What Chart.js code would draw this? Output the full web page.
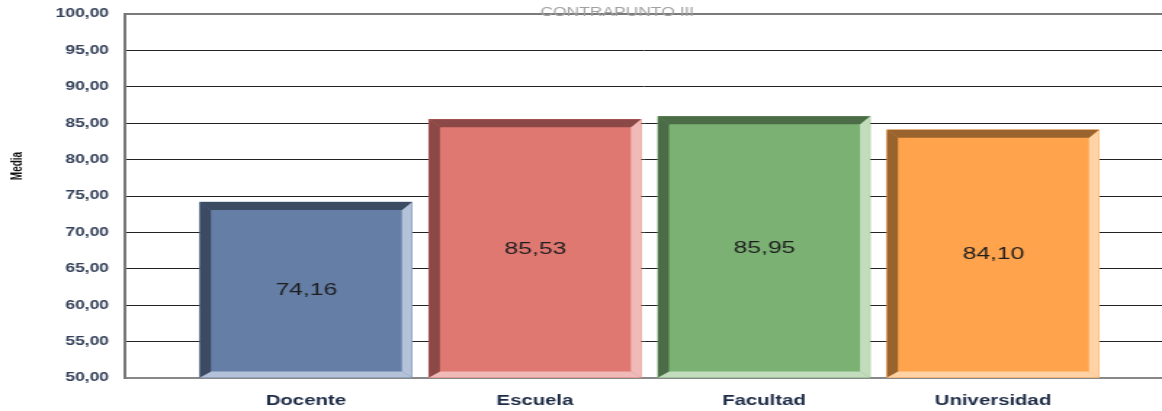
<!DOCTYPE html>
<html>
<head>
<meta charset="utf-8">
<script src="https://cdn.jsdelivr.net/npm/chart.js@4"></script>
<style>
  html, body { margin: 0; padding: 0; background: #ffffff; }
</style>
</head>
<body>
<!-- drawn at 800px wide and stretched to 1162px, like the original picture -->
<canvas id="chart" width="800" height="411" style="width:1162px;height:411px;display:block"></canvas>
<script>
// Data
const categories = ["Docente", "Escuela", "Facultad", "Universidad"];
const medias = [74.16, 85.53, 85.95, 84.1];
const yTicks = [50, 55, 60, 65, 70, 75, 80, 85, 90, 95, 100];

// bar colours: face, dark bevel (left/top), light bevel (right/bottom)
const faceColors = ["#647ea6", "#e07872", "#7bb274", "#ffa44c"];
const darkColors = ["#3c4a62", "#8a4846", "#4b6c47", "#99632d"];
const lightColors = ["#b3c2d8", "#f0bab8", "#c2dcbd", "#ffd3a6"];

const FONT = "'Liberation Sans', Arial, sans-serif";
const comma = (v) => v.toFixed(2).replace(".", ",");

// 3D bevel, value labels, title and y axis name
const bevelPlugin = {
  id: "bevel",
  afterDatasetsDraw(chart) {
    const ctx = chart.ctx;
    const meta = chart.getDatasetMeta(0);
    const bl = 7.6, bt = 8, br = 6.9, bb = 6;
    meta.data.forEach((bar, i) => {
      const L = bar.x - bar.width / 2;
      const R = bar.x + bar.width / 2;
      const T = bar.y;
      const B = bar.base;
      const poly = (pts, color) => {
        ctx.beginPath();
        ctx.moveTo(pts[0][0], pts[0][1]);
        for (let k = 1; k < pts.length; k++) ctx.lineTo(pts[k][0], pts[k][1]);
        ctx.closePath();
        ctx.fillStyle = color;
        ctx.fill();
      };
      ctx.save();
      poly([[R, T], [R, B], [R - br, B - bb], [R - br, T + bt]], lightColors[i]);
      poly([[L, B], [R, B], [R - br, B - bb], [L + bl, B - bb]], lightColors[i]);
      poly([[L, T], [L + bl, T + bt], [L + bl, B - bb], [L, B]], darkColors[i]);
      poly([[L, T], [R, T], [R - br, T + bt], [L + bl, T + bt]], darkColors[i]);

      ctx.fillStyle = "#1e1e1e";
      ctx.font = "17px " + FONT;
      ctx.textAlign = "center";
      ctx.textBaseline = "middle";
      ctx.fillText(comma(medias[i]), (L + bl + R - br) / 2, (T + B) / 2 + 1);
      ctx.restore();
    });
  },
  afterDraw(chart) {
    const ctx = chart.ctx;
    ctx.save();
    ctx.fillStyle = "#a0a0a0";
    ctx.font = "12px " + FONT;
    ctx.textAlign = "center";
    ctx.textBaseline = "alphabetic";
    ctx.fillText("CONTRAPUNTO III", 425, 16);

    ctx.translate(12.5, 166);
    ctx.rotate(-Math.PI / 2);
    ctx.fillStyle = "#111111";
    ctx.font = "bold 10px " + FONT;
    ctx.textBaseline = "middle";
    ctx.fillText("Media", 0, 0);
    ctx.restore();
  },
};

const chart = new Chart(document.getElementById("chart"), {
  type: "bar",
  data: {
    datasets: [
      {
        label: "Media",
        data: categories.map((c, i) => ({ x: i, y: medias[i] })),
        backgroundColor: faceColors,
        borderWidth: 0,
        barThickness: 146,
        base: 50,
      },
    ],
  },
  options: {
    responsive: false,
    animation: false,
    devicePixelRatio: 1,
    layout: { padding: { top: 14, right: 0, left: 0, bottom: 0 } },
    plugins: {
      legend: { display: false },
      tooltip: { enabled: false },
    },
    scales: {
      x: {
        type: "linear",
        offset: false,
        min: -0.79,
        max: 3.738,
        grid: { display: false },
        border: { display: true, color: "#888888", width: 2 },
        afterBuildTicks: function (scale) {
          scale.ticks = categories.map((c, i) => ({ value: i }));
        },
        afterFit: function (scale) {
          scale.height = 33;
          scale.paddingLeft = 0;
          scale.paddingRight = 0;
        },
        ticks: {
          padding: 7,
          color: "#1c2a45",
          font: { family: FONT, size: 14, weight: "bold" },
          callback: function (value) {
            return categories[value];
          },
        },
      },
      y: {
        min: 50,
        max: 100,
        afterBuildTicks: function (scale) {
          scale.ticks = yTicks.map((v) => ({ value: v }));
        },
        afterFit: function (scale) {
          scale.width = 86;
          scale.paddingTop = 0;
          scale.paddingBottom = 0;
        },
        grid: {
          drawTicks: false,
          color: function (ctx) {
            return ctx.tick && (ctx.tick.value === 100 || ctx.tick.value === 50) ? "#7a7a7a" : "#222222";
          },
          lineWidth: function (ctx) {
            return ctx.tick && ctx.tick.value === 100 ? 2 : 1;
          },
        },
        border: { display: true, color: "#777777", width: 2 },
        ticks: {
          padding: 11,
          color: "#34405a",
          font: { family: FONT, size: 12, weight: "bold" },
          callback: function (value) {
            return comma(value);
          },
        },
      },
    },
  },
  plugins: [bevelPlugin],
});
</script>
</body>
</html>
